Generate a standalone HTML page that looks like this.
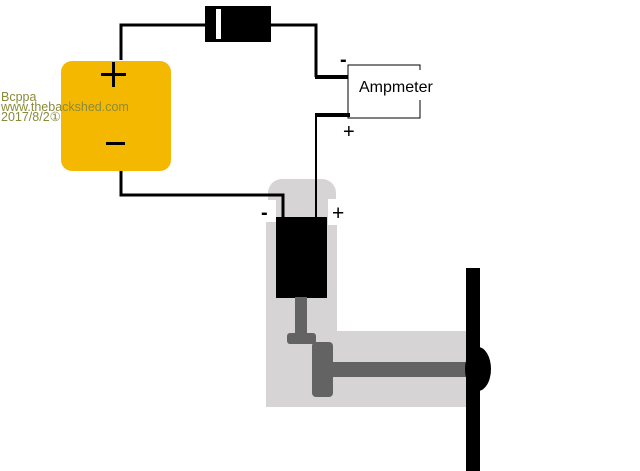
<!DOCTYPE html>
<html><head><style>body{margin:0;background:#fff}svg{display:block}</style></head><body>
<svg width="640" height="471" viewBox="0 0 640 471" xmlns="http://www.w3.org/2000/svg" font-family="Liberation Sans, Arial, sans-serif">
<rect width="640" height="471" fill="#fff"/>
<rect x="268" y="179" width="68" height="60" rx="14" fill="#d6d4d4"/>
<rect x="266" y="200" width="71" height="207" fill="#d6d4d4"/>
<rect x="266" y="331" width="202" height="76" fill="#d6d4d4"/>
<rect x="256" y="200" width="20" height="22" fill="#fff"/>
<rect x="328" y="199" width="24" height="26" fill="#fff"/>
<polyline points="121,60 121,25 316,25 316,77" fill="none" stroke="#000" stroke-width="3"/>
<line x1="315" y1="77" x2="348" y2="77" stroke="#000" stroke-width="4"/>
<line x1="315" y1="115" x2="350" y2="115" stroke="#000" stroke-width="4"/>
<line x1="316" y1="114" x2="316" y2="218" stroke="#000" stroke-width="2"/>
<polyline points="121,170 121,195 283,195 283,218" fill="none" stroke="#000" stroke-width="3"/>
<rect x="205" y="6" width="66" height="36" fill="#000"/>
<rect x="216" y="9" width="5" height="30" fill="#fff"/>
<rect x="61" y="61" width="110" height="110" rx="11" fill="#f5b800"/>
<rect x="101" y="73" width="25" height="3" fill="#000"/>
<rect x="112" y="62" width="3" height="25" fill="#000"/>
<rect x="106" y="142" width="19" height="3" fill="#000"/>
<text x="1" y="101" font-size="12.5" fill="#8a8a3a">Вcppa</text>
<text x="1" y="111" font-size="12.5" fill="#8a8a3a">www.thebackshed.com</text>
<text x="1" y="121" font-size="12.5" fill="#8a8a3a">2017/8/2①</text>
<polyline points="420,70 420,65 348,65 348,118 420,118 420,100" fill="none" stroke="#000" stroke-width="1"/>
<text x="359" y="92" font-size="16" fill="#000">Ampmeter</text>
<text x="340" y="66" font-size="20" font-weight="bold" fill="#000">-</text>
<text x="343" y="138" font-size="20" fill="#000">+</text>
<text x="261" y="219" font-size="20" font-weight="bold" fill="#000">-</text>
<text x="332" y="220" font-size="21" fill="#000">+</text>
<rect x="276" y="217" width="51" height="81" fill="#000"/>
<rect x="295" y="297" width="12" height="38" fill="#636363"/>
<rect x="287" y="333" width="29" height="11" rx="3" fill="#636363"/>
<rect x="312" y="342" width="21" height="55" rx="4" fill="#636363"/>
<rect x="330" y="362" width="138" height="15" fill="#636363"/>
<ellipse cx="478" cy="369" rx="13" ry="22" fill="#000"/>
<rect x="466" y="268" width="14" height="203" fill="#000"/>
</svg>
</body></html>
